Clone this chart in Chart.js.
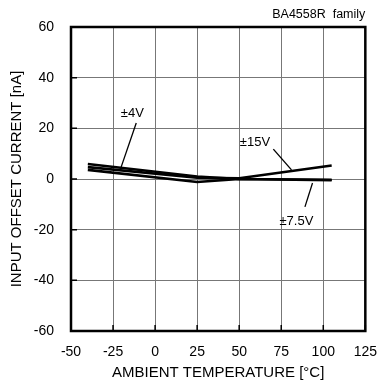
<!DOCTYPE html>
<html>
<head>
<meta charset="utf-8">
<script src="https://cdn.jsdelivr.net/npm/chart.js@4.4.0/dist/chart.umd.min.js"></script>
<style>
  html, body { margin: 0; padding: 0; background: #fff; }
  #wrap { width: 390px; height: 383px; }
</style>
</head>
<body>
<div id="wrap"><canvas id="myChart"></canvas></div>
<script>
const temps = [-40, 25, 50, 105];
const v4 = [5.9, 1.0, 0.0, -0.3];
const v15 = [4.7, 0.5, 0.3, 5.3];
const v75 = [3.6, -1.2, 0.0, -0.5];

const xTicks = [-50, -25, 0, 25, 50, 75, 100, 125];
const yTicks = [-60, -40, -20, 0, 20, 40, 60];

// label text, text position, leader line from -> to (data units)
const notes = [
  { text: '±4V', at: [-13.5, 26], from: [-11.2, 22.1], to: [-20.4, 4.3] },
  { text: '±15V', at: [59.4, 14.6], from: [70.3, 11.8], to: [81.1, 3.6] },
  { text: '±7.5V', at: [84, -16.6], from: [89.1, -11], to: [93.6, -1.6] }
];

const FONT = 'Liberation Sans, Arial, sans-serif';

const pts = vals => temps.map((t, i) => ({ x: t, y: vals[i] }));

const frame = {
  id: 'frame',
  afterDatasetsDraw(chart) {
    const { ctx, chartArea: a, scales: { x, y } } = chart;
    ctx.save();
    // inner tick marks
    ctx.strokeStyle = '#000';
    ctx.lineWidth = 1.5;
    ctx.beginPath();
    xTicks.forEach(t => {
      const px = x.getPixelForValue(t);
      ctx.moveTo(px, a.bottom);
      ctx.lineTo(px, a.bottom - 6);
    });
    yTicks.forEach(t => {
      const py = y.getPixelForValue(t);
      ctx.moveTo(a.left, py);
      ctx.lineTo(a.left + 6, py);
    });
    ctx.stroke();
    // leader lines + labels
    ctx.lineWidth = 1.3;
    ctx.font = '13px ' + FONT;
    ctx.fillStyle = '#000';
    ctx.textAlign = 'center';
    ctx.textBaseline = 'middle';
    notes.forEach(n => {
      ctx.beginPath();
      ctx.moveTo(x.getPixelForValue(n.from[0]), y.getPixelForValue(n.from[1]));
      ctx.lineTo(x.getPixelForValue(n.to[0]), y.getPixelForValue(n.to[1]));
      ctx.stroke();
      ctx.fillText(n.text, x.getPixelForValue(n.at[0]), y.getPixelForValue(n.at[1]));
    });
    // border
    ctx.lineWidth = 2.5;
    ctx.strokeRect(a.left, a.top, a.right - a.left, a.bottom - a.top);
    // family note
    ctx.font = '12.5px ' + FONT;
    ctx.textAlign = 'right';
    ctx.fillText('BA4558R  family', a.right, 15);
    ctx.restore();
  }
};

const ctx = document.getElementById('myChart');

new Chart(ctx, {
  type: 'line',
  data: {
    datasets: [
      { label: '±4V', data: pts(v4) },
      { label: '±15V', data: pts(v15) },
      { label: '±7.5V', data: pts(v75) }
    ].map(d => ({ ...d, borderColor: '#000', borderWidth: 2.6, pointRadius: 0, tension: 0, fill: false }))
  },
  options: {
    responsive: true,
    maintainAspectRatio: false,
    animation: false,
    events: [],
    layout: { padding: { top: 27, right: 12, left: 0, bottom: 0 } },
    plugins: { legend: { display: false }, tooltip: { enabled: false } },
    scales: {
      x: {
        type: 'linear',
        min: -50, max: 125,
        afterBuildTicks: s => { s.ticks = xTicks.map(v => ({ value: v })); },
        afterFit: s => { s.height = 52; },
        grid: { color: '#777', lineWidth: 1, drawTicks: false },
        border: { display: false },
        ticks: { color: '#000', padding: 13, maxRotation: 0, font: { family: FONT, size: 14 } },
        title: { display: true, text: 'AMBIENT TEMPERATURE [°C]', color: '#000', padding: { top: 0, bottom: 1 }, font: { family: FONT, size: 15 } }
      },
      y: {
        min: -60, max: 60,
        afterBuildTicks: s => { s.ticks = yTicks.map(v => ({ value: v })); },
        afterFit: s => { s.width = 71; },
        grid: { color: '#777', lineWidth: 1, drawTicks: false },
        border: { display: false },
        ticks: { color: '#000', padding: 17, font: { family: FONT, size: 14 } },
        title: { display: true, text: 'INPUT OFFSET CURRENT [nA]', color: '#000', padding: { top: 8, bottom: 0 }, font: { family: FONT, size: 15 } }
      }
    }
  },
  plugins: [frame]
});
</script>
</body>
</html>
